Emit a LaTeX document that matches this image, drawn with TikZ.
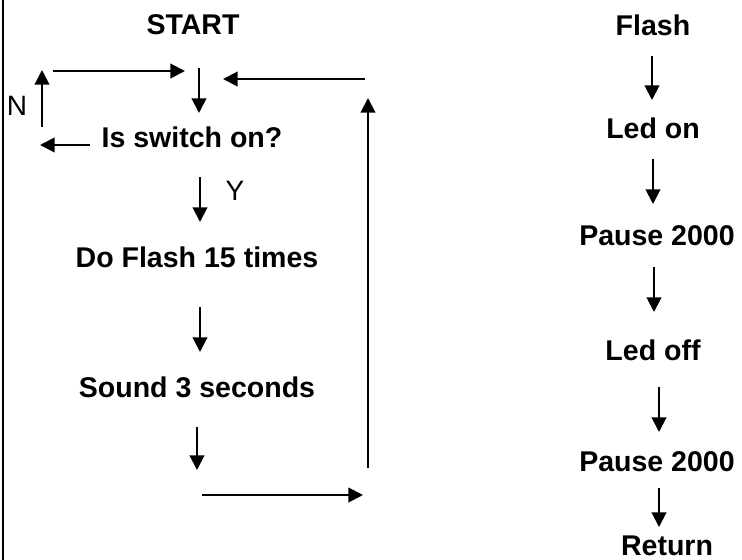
\documentclass[tikz,border=0pt]{standalone}
\usepackage{fontspec}
\setmainfont{Liberation Sans}
\usetikzlibrary{arrows.meta}
\begin{document}
\begin{tikzpicture}[x=0.75pt,y=-0.75pt,
  lbl/.style={font=\fontsize{21.4}{24}\selectfont\bfseries, inner sep=0pt,
              text height=15.3pt, text depth=0pt},
  tag/.style={font=\fontsize{21}{24}\selectfont, inner sep=0pt,
              text height=15pt, text depth=0pt},
  flow/.style={line width=1.5pt, -{Triangle[length=11pt,width=11pt]}},
]
\useasboundingbox (0,0) rectangle (742,560);
% left frame edge
\draw[line width=1.5pt] (3,0) -- (3,560);

% main program
\node[lbl] (start)  at (193,24)  {START};
\node[lbl] (ask)    at (192,137) {Is switch on?};
\node[lbl] (doflash) at (197,257) {Do Flash 15 times};
\node[lbl] (sound)  at (197,387) {Sound 3 seconds};
\node[tag] (no)     at (17,105)  {N};
\node[tag] (yes)    at (235,190) {Y};

% arrow end points of the main loop
\coordinate (lpA) at (53,71);   \coordinate (lpB) at (185,71);
\coordinate (inA) at (199,68);  \coordinate (inB) at (199,113);
\coordinate (rtA) at (365,79);  \coordinate (rtB) at (223,79);
\coordinate (nA)  at (42,127);  \coordinate (nB)  at (42,70);
\coordinate (lfA) at (90,145);  \coordinate (lfB) at (40,145);
\coordinate (yA)  at (200,177); \coordinate (yB)  at (200,222);
\coordinate (fA)  at (200,307); \coordinate (fB)  at (200,352);
\coordinate (sA)  at (197,427); \coordinate (sB)  at (197,470);
\coordinate (bA)  at (202,495); \coordinate (bB)  at (363,495);
\coordinate (uA)  at (368,468); \coordinate (uB)  at (368,98);

\draw[flow] (lpA) -- (lpB);
\draw[flow] (inA) -- (inB);
\draw[flow] (rtA) -- (rtB);
\draw[flow] (nA)  -- (nB);
\draw[flow] (lfA) -- (lfB);
\draw[flow] (yA)  -- (yB);
\draw[flow] (fA)  -- (fB);
\draw[flow] (sA)  -- (sB);
\draw[flow] (bA)  -- (bB);
\draw[flow] (uA)  -- (uB);

% Flash subroutine
\node[lbl] (flash)  at (653,25)  {Flash};
\node[lbl] (ledon)  at (653,128) {Led on};
\node[lbl] (pauseA) at (657,235) {Pause 2000};
\node[lbl] (ledoff) at (653,350) {Led off};
\node[lbl] (pauseB) at (657,461) {Pause 2000};
\node[lbl] (ret)    at (667,545) {Return};

\coordinate (r1A) at (652,56);  \coordinate (r1B) at (652,100);
\coordinate (r2A) at (653,159); \coordinate (r2B) at (653,204);
\coordinate (r3A) at (654,267); \coordinate (r3B) at (654,312);
\coordinate (r4A) at (659,387); \coordinate (r4B) at (659,432);
\coordinate (r5A) at (659,488); \coordinate (r5B) at (659,527);

\draw[flow] (r1A) -- (r1B);
\draw[flow] (r2A) -- (r2B);
\draw[flow] (r3A) -- (r3B);
\draw[flow] (r4A) -- (r4B);
\draw[flow] (r5A) -- (r5B);
\end{tikzpicture}
\end{document}
